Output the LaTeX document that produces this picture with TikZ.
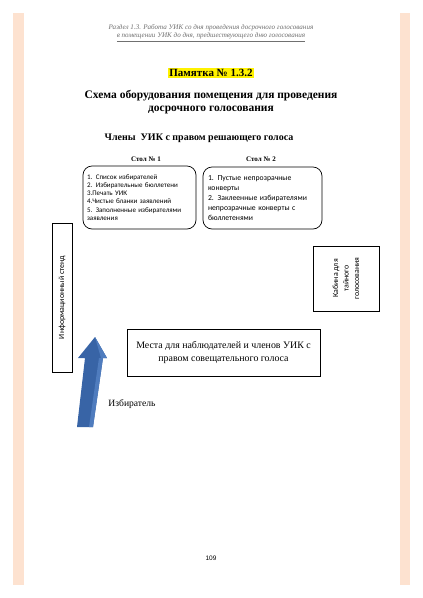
\documentclass[tikz,border=0pt]{standalone}
\usepackage{fontspec}
\setmainfont{Liberation Serif}
\newfontfamily\calibri{Carlito}
\newfontfamily\arialfont{Liberation Sans}
\definecolor{peach}{HTML}{FDE2D0}
\definecolor{arrowblue}{HTML}{3864A6}
\definecolor{arrowlight}{HTML}{4F7CBE}
\definecolor{hdrgray}{HTML}{707070}

\begin{document}
\begin{tikzpicture}[x=1pt,y=-1pt,
    plainbox/.style={draw,line width=0.7pt,inner sep=2pt},
    tablebox/.style={plainbox,rounded corners=9pt,align=left,inner sep=4pt,
      font=\calibri\fontsize{7}{8.2}\selectfont},
    sidetext/.style={font=\calibri\fontsize{7.9}{10.5}\selectfont,align=center},
    tablehead/.style={font=\bfseries\fontsize{7}{8}\selectfont}]
  \useasboundingbox (0,0) rectangle (423,598);
  % page margins
  \fill[peach] (13,13) rectangle (24,585);
  \fill[peach] (400,13) rectangle (410,585);
  % running header
  \node[text=hdrgray,align=center,font=\itshape\fontsize{7.1}{8.2}\selectfont] (header) at (211,33)
    {Раздел 1.3. Работа УИК со дня проведения досрочного голосования\\
     \underline{в помещении УИК до дня, предшествующего дню голосования}};
  % titles
  \node[fill=yellow,inner sep=1pt,font=\bfseries\fontsize{11}{13}\selectfont] (memo) at (211,73) {Памятка № 1.3.2};
  \node[align=center,font=\bfseries\fontsize{11.5}{12.5}\selectfont] (title) at (211,102)
    {Схема оборудования помещения для проведения\\досрочного голосования};
  \node[font=\bfseries\fontsize{10}{12}\selectfont] (members) at (199,138) {Члены\ \ УИК с правом решающего голоса};
  % tables
  \node[tablehead] (head1) at (146,159) {Стол № 1};
  \node[tablehead] (head2) at (261,159) {Стол № 2};
  \node[tablebox,minimum width=113pt,minimum height=63pt,text width=105pt] (table1) at (139.5,197.5)
    {1. Список избирателей\\2. Избирательные бюллетени\\3.Печать УИК\\4.Чистые бланки заявлений\\5. Заполненные избирателями\\заявления};
  \node[tablebox,minimum width=119pt,minimum height=62pt,text width=109pt,
    font=\calibri\fontsize{7.7}{9.8}\selectfont] (table2) at (262.5,198)
    {1. Пустые непрозрачные\\конверты\\2. Заклеенные избирателями\\непрозрачные конверты с\\бюллетенями};
  % stand and booth
  \node[plainbox,sidetext,rotate=90,minimum width=149pt,minimum height=20pt] (stand) at (62,297.5) {Информационный стенд};
  \node[plainbox,sidetext,rotate=90,minimum width=65pt,minimum height=66pt] (booth) at (346,278.5)
    {Кабина для\\тайного\\голосования};
  % observers
  \node[plainbox,align=center,minimum width=193pt,minimum height=47pt,font=\fontsize{9.9}{13}\selectfont] (seats) at (223.5,352.5)
    {Места для наблюдателей и членов УИК с\\правом совещательного голоса};
  % voter arrow
  \fill[arrowblue] (77,427) -- (85,358) -- (78,358) -- (95,337) -- (107,358) -- (103,358) -- (93,427) -- cycle;
  \fill[arrowlight] (89,427) -- (99,358) -- (103,358) -- (93,427) -- cycle;
  \fill[arrowlight] (95,337) -- (107,358) -- (101,358) -- cycle;
  \node[font=\fontsize{9.6}{11}\selectfont] (voter) at (132,404) {Избиратель};
  % page number
  \node[font=\arialfont\fontsize{6.5}{8}\selectfont] (pagenum) at (211,558) {109};
\end{tikzpicture}
\end{document}
